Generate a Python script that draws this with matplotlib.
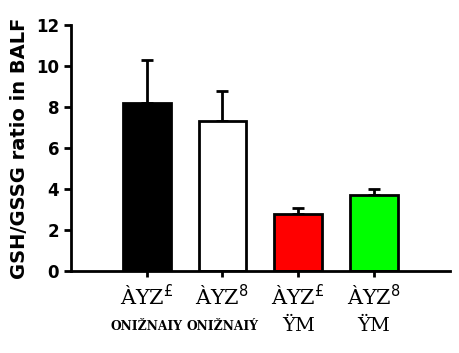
import matplotlib
matplotlib.use("Agg")
import matplotlib.pyplot as plt
from matplotlib.transforms import blended_transform_factory

top_labels = ["ÀYZ$^{£}$", "ÀYZ$^{8}$", "ÀYZ$^{£}$", "ÀYZ$^{8}$"]
bottom_labels = ["ONIŽNAIY", "ONIŽNAIÝ", "ŸM", "ŸM"]
means = [8.2, 7.3, 2.8, 3.7]
errors = [2.1, 1.5, 0.28, 0.3]
colors = ["black", "white", "red", "#00ff00"]

fig = plt.figure(figsize=(4.6, 3.53), dpi=100)
ax = fig.add_axes([0.154, 0.232, 0.824, 0.697])

x = range(len(means))
ax.bar(x, means, width=0.63, color=colors, edgecolor="black", linewidth=2, zorder=2)
ax.errorbar(x, means, yerr=[[0] * len(errors), errors], fmt="none",
            ecolor="black", elinewidth=2, capsize=4, capthick=2, zorder=1)

ax.set_xlim(-1, 4)
ax.set_ylim(0, 12)
ax.set_yticks([0, 2, 4, 6, 8, 10, 12])
ax.set_xticks(list(x))
ax.set_xticklabels([""] * len(means))
for lab in ax.get_yticklabels():
    lab.set_fontweight("bold")
ax.tick_params(axis="y", labelsize=12, width=2, length=5, direction="out")
ax.tick_params(axis="x", width=2, length=4, direction="out")
ax.set_ylabel("GSH/GSSG ratio in BALF", fontsize=14, fontweight="bold", labelpad=5)

# two-line group labels
trans = blended_transform_factory(ax.transData, fig.transFigure)
for i in x:
    ax.text(i, 1 - 297 / 353, top_labels[i], transform=trans, ha="center", va="center",
            fontsize=15, family=["DejaVu Serif"])
    # long labels must be squeezed to fit under the bar
    if len(bottom_labels[i]) > 4:
        ax.text(i, 1 - 327 / 353, bottom_labels[i], transform=trans, ha="center",
                va="center", fontsize=8.8, fontweight="bold", family=["DejaVu Serif"])
    else:
        ax.text(i, 1 - 326 / 353, bottom_labels[i], transform=trans, ha="center",
                va="center", fontsize=14, family=["DejaVu Serif"])

for side in ["top", "right"]:
    ax.spines[side].set_visible(False)
ax.spines["left"].set_linewidth(2)
ax.spines["bottom"].set_linewidth(2)

fig.savefig("out.png", dpi=100)
